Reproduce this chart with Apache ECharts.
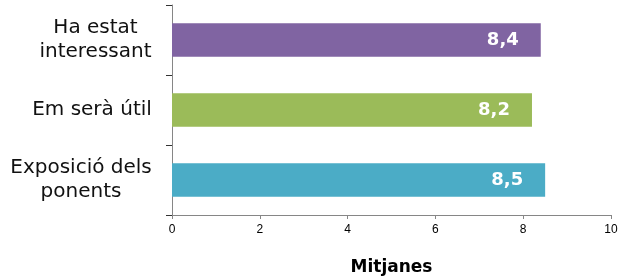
<!DOCTYPE html>
<html>
<head>
<meta charset="utf-8">
<script src="https://cdn.jsdelivr.net/npm/echarts@6/dist/echarts.min.js"></script>
<style>
  html, body { margin: 0; padding: 0; background: #fff; }
  #chart { width: 624px; height: 276px; }
</style>
</head>
<body>
<div id="chart"></div>
<script>
  // dades
  const categories = ['Ha estat\ninteressant', 'Em serà útil', 'Exposició dels\nponents']
  const mitjanes = [8.4, 8.2, 8.5]
  const barColors = ['#8064A2', '#9BBB59', '#4BACC6']
  const xTicks = [0, 2, 4, 6, 8, 10]

  const catFont = '20px "DejaVu Sans"'

  // amplada de cada etiqueta (linia mes llarga) per centrar les linies dins el bloc
  const ctx = document.createElement('canvas').getContext('2d')
  ctx.font = catFont
  const rich = {}
  categories.forEach((c, i) => {
    const w = Math.max(...c.split('\n').map(l => ctx.measureText(l).width))
    rich['c' + i] = { width: Math.ceil(w), align: 'center', fontSize: 20, fontFamily: 'DejaVu Sans', color: '#111', lineHeight: 24 }
  })

  const chart = echarts.init(document.getElementById('chart'))

  const option = {
    animation: false,
    grid: { left: 172, right: 13, top: 5, bottom: 61, outerBoundsMode: 'none', containLabel: false },
    xAxis: {
      type: 'value',
      min: xTicks[0],
      max: xTicks[xTicks.length - 1],
      interval: 2,
      name: 'Mitjanes',
      nameLocation: 'middle',
      nameGap: 44,
      nameTextStyle: { color: '#000', fontSize: 17, fontWeight: 'bold', fontFamily: 'DejaVu Sans' },
      axisLine: { show: true, lineStyle: { color: '#868686', width: 1 } },
      axisTick: { show: true, length: 4, lineStyle: { color: '#868686' } },
      axisLabel: { color: '#000', fontSize: 12, fontFamily: 'Liberation Sans', margin: 9 },
      splitLine: { show: false }
    },
    yAxis: {
      type: 'category',
      inverse: true,
      data: categories,
      axisLine: { show: true, lineStyle: { color: '#868686', width: 1 } },
      axisTick: { show: true, length: 6, lineStyle: { color: '#333' } },
      axisLabel: {
        margin: 20,
        align: 'right',
        formatter: (val, idx) => val.split('\n').map(l => '{c' + idx + '|' + l + '}').join('\n'),
        rich: rich
      }
    },
    series: [{
      type: 'bar',
      barWidth: '48%',
      data: mitjanes.map((v, i) => ({ value: v, itemStyle: { color: barColors[i] } })),
      label: {
        show: true,
        position: 'insideRight',
        distance: 22,
        color: '#fff',
        fontSize: 18,
        fontWeight: 'bold',
        fontFamily: 'DejaVu Sans',
        formatter: p => p.value.toFixed(1).replace('.', ',')
      }
    }]
  }

  chart.setOption(option)
</script>
</body>
</html>
